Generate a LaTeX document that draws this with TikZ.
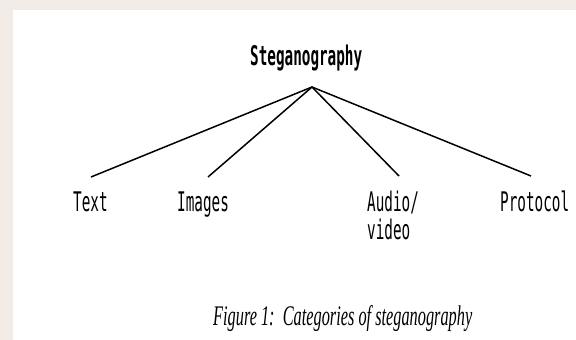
\documentclass[tikz,border=0pt]{standalone}
\usepackage{fontspec}
\setmainfont{Liberation Serif}
\newfontfamily\monof[FakeStretch=0.53]{DejaVu Sans Mono}
\definecolor{bgstrip}{RGB}{243,235,229}
\begin{document}
\begin{tikzpicture}[x=1pt,y=-1pt,
  lbl/.style={font=\monof\fontsize{27}{28}\selectfont, inner sep=0pt, anchor=base west, align=left},
  rootlbl/.style={font=\monof\bfseries\fontsize{27}{28}\selectfont, inner sep=0pt, anchor=base west},
  edge/.style={line width=1.5pt, black}]
\useasboundingbox (0,0) rectangle (576,340);
\fill[white] (0,0) rectangle (576,340);
\fill[bgstrip] (0,0) rectangle (576,10);
\fill[bgstrip] (0,0) rectangle (13,340);
\node[rootlbl] (root) at (250,65) {Steganography};
\coordinate (apex) at (312,87);
\node[lbl] (text) at (73,211) {Text};
\node[lbl] (images) at (177,211) {Images};
\node[lbl] (audio) at (367,239) {Audio/\\video};
\node[lbl] (protocol) at (500,211) {Protocol};
\coordinate (eText) at (91,177);
\coordinate (eImages) at (208,177);
\coordinate (eAudio) at (399,176);
\coordinate (eProtocol) at (531,176);
\draw[edge] (apex) -- (eText);
\draw[edge] (apex) -- (eImages);
\draw[edge] (apex) -- (eAudio);
\draw[edge] (apex) -- (eProtocol);
\node[inner sep=0pt, anchor=base west] (cap) at (213,325) {\resizebox{259pt}{20pt}{\itshape Figure 1:\ \ Categories of steganography}};
\end{tikzpicture}
\end{document}
